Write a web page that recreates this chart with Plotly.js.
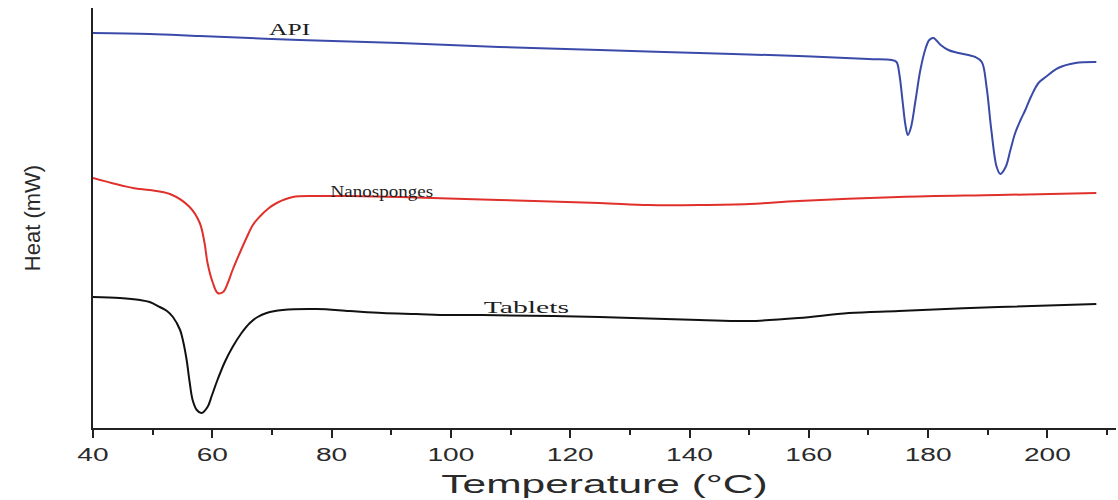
<!DOCTYPE html>
<html>
<head>
<meta charset="utf-8">
<script src="https://cdn.plot.ly/plotly-3.0.1.min.js"></script>
<style>html,body{margin:0;padding:0;background:#fff;}#chart{width:1118px;height:500px;}</style>
</head>
<body>
<div id="chart"></div>
<script>
// Temperature (°C) and heat flow (arbitrary units, offset per curve)
var apiTemp = [40.0, 49.5, 57.9, 74.6, 91.4, 108.1, 124.9, 141.6, 158.3, 170.0, 173.9, 174.7, 175.2, 175.7, 176.2, 176.6, 177.1, 177.9, 178.7, 179.6, 180.2, 180.9, 182.1, 183.4, 185.1, 187.9, 189.0, 189.8, 190.6, 191.5, 192.1, 193.0, 193.8, 194.6, 195.5, 196.3, 197.3, 198.5, 199.7, 201.8, 204.7, 208.2];
var apiHeat = [395, 394, 392, 388, 385, 381, 378, 375, 372, 369, 368, 366, 353, 328, 303, 293, 300, 328, 358, 380, 388, 390, 383, 378, 375, 371, 366, 341, 298, 261, 254, 261, 278, 295, 308, 318, 332, 345, 351, 360, 365, 366];

var nanoTemp = [40.0, 46.7, 49.5, 52.9, 56.2, 57.9, 58.7, 59.2, 60.1, 60.9, 61.8, 62.6, 63.4, 64.6, 65.8, 66.8, 67.9, 69.3, 70.8, 73.5, 77.5, 83.0, 91.4, 108.1, 124.9, 133.2, 141.6, 150.0, 158.3, 175.1, 191.8, 208.2];
var nanoHeat = [250, 240, 238, 234, 221, 205, 185, 165, 145, 135, 136, 145, 158, 175, 191, 203, 211, 219, 225, 231, 232, 232, 231, 228, 225, 223, 223, 224, 227, 231, 233, 235];

var tabTemp = [40.0, 44.5, 47.9, 49.5, 51.2, 52.4, 53.4, 54.6, 55.1, 55.7, 56.2, 56.7, 57.4, 58.2, 59.2, 59.9, 60.8, 62.1, 63.4, 64.9, 66.3, 67.6, 69.1, 71.8, 77.5, 83.0, 88.5, 94.2, 99.7, 105.3, 124.9, 141.6, 150.0, 158.3, 166.7, 175.1, 191.8, 208.2];
var tabHeat = [131, 130, 128, 126, 121, 117, 111, 98, 87, 68, 46, 28, 18, 15, 21, 32, 47, 66, 81, 95, 105, 111, 115, 118, 119, 117, 115, 114, 113, 113, 111, 108, 107, 110, 115, 117, 121, 124];

var seriesNames = ["API", "Nanosponges", "Tablets"];
var seriesColors = ["#3a4aa8", "#e0302c", "#111111"];
var labelTemp = [73.1, 88.5, 112.6];
var labelHeat = [399, 237, 121];

var xTicks = [40, 60, 80, 100, 120, 140, 160, 180, 200];

var temps = [apiTemp, nanoTemp, tabTemp];
var heats = [apiHeat, nanoHeat, tabHeat];

var traces = seriesNames.map(function(n, i){
  return {
    x: temps[i], y: heats[i], name: n, type: 'scatter', mode: 'lines',
    line: {color: seriesColors[i], width: 2, shape: 'spline', smoothing: 1}
  };
});

var annotations = seriesNames.map(function(n, i){
  return {
    x: labelTemp[i], y: labelHeat[i], xref: 'x', yref: 'y', text: n, showarrow: false,
    font: {family: 'Liberation Serif, serif', size: 17, color: '#1e1e1e'}
  };
});

var layout = {
  width: 1118, height: 500,
  margin: {l: 93, r: 2, t: 8, b: 72},
  paper_bgcolor: '#fff', plot_bgcolor: '#fff',
  showlegend: false,
  xaxis: {
    range: [40, 211.5], showgrid: false, zeroline: false,
    showline: true, linecolor: '#222', linewidth: 2,
    tickmode: 'array', tickvals: xTicks, ticktext: xTicks.map(String),
    ticks: 'outside', ticklen: 8, tickwidth: 2, tickcolor: '#222',
    minor: {dtick: 10, tick0: 40, ticks: 'outside', ticklen: 5, tickwidth: 2, tickcolor: '#222', showgrid: false},
    tickfont: {family: 'Liberation Sans, Arial, sans-serif', size: 19, color: '#2a2a2a'},
    title: {text: 'Temperature (°C)', font: {family: 'Liberation Sans, Arial, sans-serif', size: 25, color: '#2a2a2a'}, standoff: 12}
  },
  yaxis: {
    range: [0, 420], showgrid: false, zeroline: false,
    showline: true, linecolor: '#222', linewidth: 2,
    ticks: '', showticklabels: false,
    title: {text: 'Heat (mW)', font: {family: 'Liberation Sans, Arial, sans-serif', size: 22, color: '#2a2a2a'}, standoff: 44}
  },
  annotations: annotations
};

// the reference image is horizontally stretched; widen the horizontal texts about their centres
function stretch(nodes, s){
  nodes.forEach(function(t){
    var b = t.getBBox();
    var cx = b.x + b.width / 2, cy = b.y + b.height / 2;
    var tr = t.getAttribute('transform') || '';
    t.setAttribute('transform', tr + ' translate(' + cx + ',' + cy + ') scale(' + s + ',1) translate(' + (-cx) + ',' + (-cy) + ')');
  });
}

Plotly.newPlot('chart', traces, layout, {displayModeBar: false, staticPlot: true}).then(function(){
  stretch(document.querySelectorAll('.xtick text'), 1.48);
  stretch(document.querySelectorAll('.g-xtitle text'), 1.7);
  var ann = document.querySelectorAll('.annotation-text');
  var factors = [1.5, 1.12, 1.75];
  ann.forEach(function(t, i){ stretch([t], factors[i] || 1); });
});
</script>
</body>
</html>
